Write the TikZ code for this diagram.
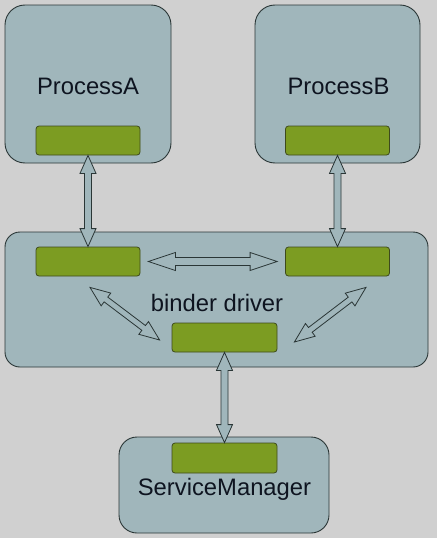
\documentclass[tikz,border=0pt]{standalone}
\usepackage{fontspec}
\setmainfont{Liberation Sans}
\usetikzlibrary{calc}
\definecolor{bg}{HTML}{D0D0D0}
\definecolor{boxfill}{HTML}{A0B6BB}
\definecolor{boxline}{HTML}{2A3636}
\definecolor{barfill}{HTML}{7C9C22}
\definecolor{barline}{HTML}{3E4A1C}
\definecolor{txt}{HTML}{0E1420}
\tikzset{
  procbox/.style={draw=boxline, fill=boxfill, line width=0.9pt, inner sep=0pt},
  greenbar/.style={draw=barline, fill=barfill, line width=0.8pt, rounded corners=3pt,
    minimum height=29pt, minimum width=104pt, inner sep=0pt},
  label/.style={font=\fontsize{23.8}{28}\selectfont, text=txt, anchor=base, inner sep=0pt},
  arrowbody/.style={draw=boxline, fill=boxfill, line width=0.8pt, line join=miter},
}
% #1 name, #2 from, #3 to, #4 half shaft, #5 half head, #6 head length
\newcommand\dblarr[6]{%
  \coordinate (#1s) at (#2);
  \coordinate (#1e) at (#3);
  \coordinate (#1p) at ($(#1s)!#6!(#1e)$);
  \coordinate (#1q) at ($(#1e)!#6!(#1s)$);
  \draw[arrowbody] (#1s) -- ($(#1p)!#5!90:(#1e)$) -- ($(#1p)!#4!90:(#1e)$)
    -- ($(#1q)!#4!-90:(#1s)$) -- ($(#1q)!#5!-90:(#1s)$) -- (#1e)
    -- ($(#1q)!#5!90:(#1s)$) -- ($(#1q)!#4!90:(#1s)$)
    -- ($(#1p)!#4!-90:(#1e)$) -- ($(#1p)!#5!-90:(#1e)$) -- cycle;}
\begin{document}
\begin{tikzpicture}[x=1pt,y=-1pt]
  \fill[bg] (0,0) rectangle (437,538);
  \useasboundingbox (0,0) rectangle (437,538);
  % boxes
  \node[procbox, rounded corners=20pt, minimum width=166pt, minimum height=158pt] (pa) at (88,84) {};
  \node[procbox, rounded corners=20pt, minimum width=165pt, minimum height=158pt] (pb) at (337.5,84) {};
  \node[procbox, rounded corners=15pt, minimum width=423pt, minimum height=135pt] (bd) at (216.5,299.5) {};
  \node[procbox, rounded corners=18pt, minimum width=210pt, minimum height=96pt] (sm) at (224,485) {};
  % labels
  \node[label] (la) at (88,94) {ProcessA};
  \node[label] (lb) at (338.5,94) {ProcessB};
  \node[label] (ld) at (217,311) {binder driver};
  \node[label] (ls) at (224.5,495) {ServiceManager};
  % green bars
  \node[greenbar] (ga) at (88,140.5) {};
  \node[greenbar] (gb) at (337.5,140.5) {};
  \node[greenbar] (bl) at (88,261.5) {};
  \node[greenbar] (br) at (337.5,261.5) {};
  \node[greenbar, minimum width=105pt] (bm) at (224.5,337.5) {};
  \node[greenbar, minimum width=105pt, minimum height=30pt] (gs) at (224.5,458) {};
  % connector end points
  \coordinate (hl) at ($(bl.east)+(8,0)$);
  \coordinate (hr) at ($(br.west)+(-8,0)$);
  \coordinate (dl1) at ($(bl.south)+(2,11)$);
  \coordinate (dl2) at ($(bm.west)+(-12,2.5)$);
  \coordinate (dr1) at ($(br.south)+(28.5,11)$);
  \coordinate (dr2) at ($(bm.east)+(17,4.5)$);
  % connectors
  \dblarr{a1}{ga.south}{bl.north}{3.5pt}{8pt}{18pt}
  \dblarr{a2}{gb.south}{br.north}{3.5pt}{8pt}{18pt}
  \dblarr{a3}{bm.south}{gs.north}{3.5pt}{8pt}{18pt}
  \dblarr{a4}{hl}{hr}{4pt}{9pt}{27pt}
  \dblarr{a5}{dl1}{dl2}{3pt}{8pt}{20pt}
  \dblarr{a6}{dr1}{dr2}{3pt}{8pt}{20pt}
\end{tikzpicture}
\end{document}
